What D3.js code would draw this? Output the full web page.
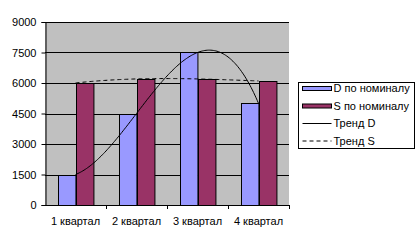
<!DOCTYPE html>
<html>
<head>
<meta charset="utf-8">
<script src="https://cdn.jsdelivr.net/npm/d3@7"></script>
<style>
  body { margin: 0; background: #fff; }
  svg text { font-family: "Liberation Sans", Arial, sans-serif; font-size: 11px; fill: #000; }
</style>
</head>
<body>
<svg id="chart" width="419" height="243"></svg>
<script>
// data
const categories = ['1 квартал', '2 квартал', '3 квартал', '4 квартал']
const seriesNames = ['D по номиналу', 'S по номиналу']
const dValues = [1500, 4500, 7500, 5000]
const sValues = [6000, 6200, 6200, 6100]
const yTicks = [0, 1500, 3000, 4500, 6000, 7500, 9000]

const colors = ['#9999FF', '#993366']

const plot = { left: 45, right: 289, top: 22, bottom: 205 }

const svg = d3.select('#chart')

const x = d3.scaleBand()
  .domain(categories)
  .range([plot.left, plot.right])
  .padding(0)

const xSub = d3.scaleBand()
  .domain(seriesNames)
  .range([0, x.bandwidth()])
  .paddingInner(0)
  .paddingOuter(0.75)

const y = d3.scaleLinear()
  .domain([0, 9000])
  .range([plot.bottom, plot.top])

// plot area background
svg.append('rect')
  .attr('x', plot.left).attr('y', plot.top)
  .attr('width', plot.right - plot.left)
  .attr('height', plot.bottom - plot.top)
  .attr('fill', '#C0C0C0')

// gridlines
svg.append('g')
  .selectAll('line')
  .data(yTicks.filter(d => d > 0))
  .enter().append('line')
  .attr('x1', plot.left).attr('x2', plot.right)
  .attr('y1', d => Math.round(y(d)) + 0.5)
  .attr('y2', d => Math.round(y(d)) + 0.5)
  .attr('stroke', '#000')

// bars
const rows = categories.map((c, i) => ({ cat: c, vals: [dValues[i], sValues[i]] }))

const groups = svg.append('g').selectAll('g')
  .data(rows)
  .enter().append('g')
  .attr('transform', d => 'translate(' + x(d.cat) + ',0)')

groups.selectAll('rect')
  .data(d => d.vals.map((v, j) => ({ name: seriesNames[j], v: v, j: j })))
  .enter().append('rect')
  .attr('x', d => Math.round(xSub(d.name)) + 0.5)
  .attr('y', d => Math.round(y(d.v)) + 0.5)
  .attr('width', xSub.bandwidth())
  .attr('height', d => y(0) - Math.round(y(d.v)))
  .attr('fill', d => colors[d.j])
  .attr('stroke', '#000')
  .attr('stroke-width', 1)

// trend lines (cubic polynomial fit of the 4 points, as in Excel)
function polyFit(vals) {
  const n = vals.length
  return function(t) {
    let s = 0
    for (let i = 0; i < n; i++) {
      let p = vals[i]
      for (let k = 0; k < n; k++) if (k !== i) p *= (t - k) / (i - k)
      s += p
    }
    return s
  }
}

const xc = d3.scaleLinear()
  .domain([0, categories.length - 1])
  .range([x(categories[0]) + x.bandwidth() / 2, x(categories[categories.length - 1]) + x.bandwidth() / 2])

const ts = d3.range(0, 3.0001, 0.02)
const line = d3.line().x(d => xc(d[0])).y(d => y(d[1]))

const fD = polyFit(dValues)
const fS = polyFit(sValues)

svg.append('path')
  .datum(ts.map(t => [t, fD(t)]))
  .attr('d', line)
  .attr('fill', 'none')
  .attr('stroke', '#000')
  .attr('stroke-width', 1)

svg.append('path')
  .datum(ts.map(t => [t, fS(t)]))
  .attr('d', line)
  .attr('fill', 'none')
  .attr('stroke', '#000')
  .attr('stroke-width', 1)
  .attr('stroke-dasharray', '4,3')

// y axis
const yAxis = d3.axisLeft(y)
  .tickValues(yTicks)
  .tickSize(4)
  .tickPadding(5)
  .tickFormat(d3.format('d'))

svg.append('g')
  .attr('transform', 'translate(' + (plot.left + 0.5) + ',0)')
  .call(yAxis)
  .call(g => g.select('.domain').attr('stroke', '#000'))
  .call(g => g.selectAll('.tick line').attr('stroke', '#000'))
  .call(g => g.selectAll('text').style('font-size', '11px'))

// x axis
svg.append('line')
  .attr('x1', plot.left).attr('x2', plot.right)
  .attr('y1', plot.bottom + 0.5).attr('y2', plot.bottom + 0.5)
  .attr('stroke', '#000')

svg.append('g')
  .selectAll('line')
  .data(categories.slice(1).concat(['end']))
  .enter().append('line')
  .attr('x1', (d, i) => Math.round(x(categories[0]) + x.step() * (i + 1)) + 0.5)
  .attr('x2', (d, i) => Math.round(x(categories[0]) + x.step() * (i + 1)) + 0.5)
  .attr('y1', plot.bottom).attr('y2', plot.bottom + 4)
  .attr('stroke', '#000')

svg.append('g')
  .selectAll('text')
  .data(categories)
  .enter().append('text')
  .attr('x', d => x(d) + x.bandwidth() / 2)
  .attr('y', 221)
  .attr('dy', '0.35em')
  .attr('text-anchor', 'middle')
  .text(d => d)

// legend
const legend = svg.append('g').attr('transform', 'translate(298.5,82.5)')

legend.append('rect')
  .attr('width', 116).attr('height', 66)
  .attr('fill', '#fff')
  .attr('stroke', '#000')

const legendItems = [
  { label: seriesNames[0], type: 'bar', color: colors[0] },
  { label: seriesNames[1], type: 'bar', color: colors[1] },
  { label: 'Тренд D', type: 'line' },
  { label: 'Тренд S', type: 'dash' }
]

const li = legend.selectAll('g.item')
  .data(legendItems)
  .enter().append('g')
  .attr('class', 'item')
  .attr('transform', (d, i) => 'translate(0,' + (6 + i * 17.5) + ')')

li.filter(d => d.type === 'bar').append('rect')
  .attr('x', 4).attr('y', -2)
  .attr('width', 29).attr('height', 4)
  .attr('fill', d => d.color)
  .attr('stroke', '#000')

li.filter(d => d.type !== 'bar').append('line')
  .attr('x1', 4).attr('x2', 33)
  .attr('y1', 0).attr('y2', 0)
  .attr('stroke', '#000')
  .attr('stroke-dasharray', d => d.type === 'dash' ? '4,3' : null)

li.append('text')
  .attr('x', 35)
  .attr('y', 0)
  .attr('dy', '0.35em')
  .text(d => d.label)
</script>
</body>
</html>
